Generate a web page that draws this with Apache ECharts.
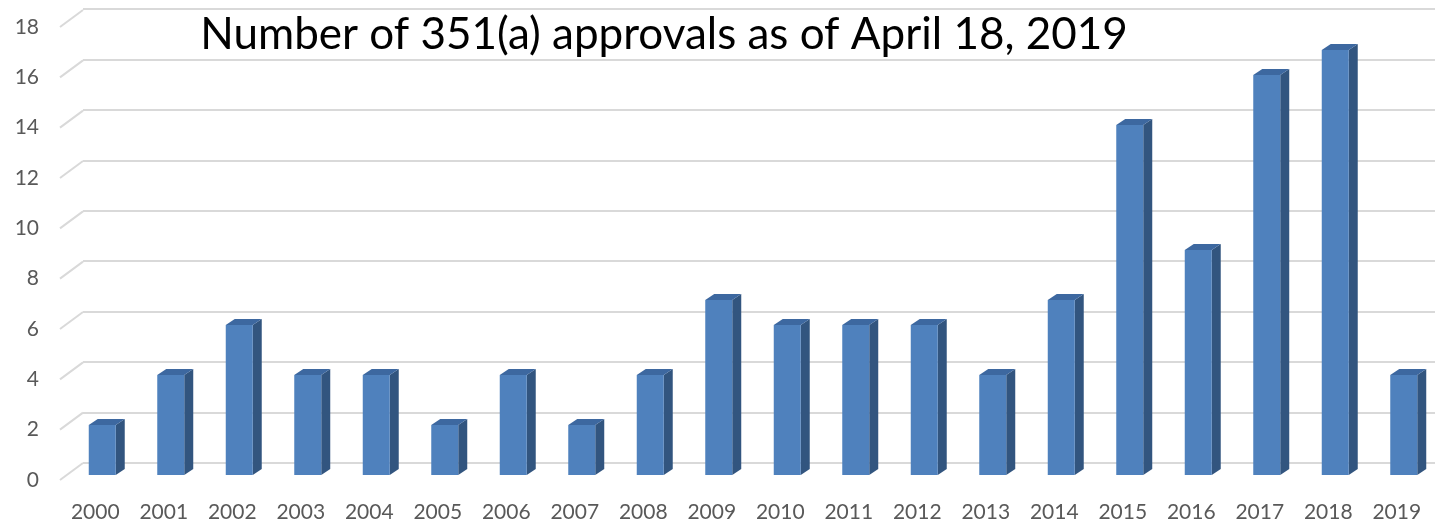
<!DOCTYPE html>
<html><head><meta charset="utf-8">
<script src="https://cdn.jsdelivr.net/npm/echarts@6/dist/echarts.min.js"></script>
<style>html,body{margin:0;padding:0;background:#fff}#c{width:1435px;height:520px}</style>
</head><body><div id="c"></div>
<script>
var titleText = 'Number of 351(a) approvals as of April 18, 2019';
var years = ['2000','2001','2002','2003','2004','2005','2006','2007','2008','2009','2010','2011','2012','2013','2014','2015','2016','2017','2018','2019'];
var approvals = [2,4,6,4,4,2,4,2,4,7,6,6,6,4,7,14,9,16,17,4];
var yTicks = [0,2,4,6,8,10,12,14,16,18];

var FONT = 'Lato, "Liberation Sans", sans-serif';
var DX = 9, DY = -6;          // bar depth offset
var WX = 23, WY = -17;        // back-wall offset
var BAR_SHIFT = 7;

var chart = echarts.init(document.getElementById('c'), null, {renderer: 'canvas'});
chart.setOption({
  animation: false,
  backgroundColor: '#fff',
  title: {
    text: titleText, left: 659, top: 8, textAlign: 'center',
    textStyle: {fontFamily: FONT, fontSize: 44, fontWeight: 'normal', color: '#000'}
  },
  grid: [
    {left: 61, right: 4, top: 25, height: 450, containLabel: false, outerBoundsMode: 'none'},   // bars (front)
    {left: 83, right: 0, top: 9, height: 454, containLabel: false, outerBoundsMode: 'none'},    // back wall
    {left: 60, right: 0, top: 27, height: 453, containLabel: false, outerBoundsMode: 'none'}    // labels / side wall edge
  ],
  xAxis: [
    {type: 'category', gridIndex: 0, data: years,
     axisLine: {show: false}, axisTick: {show: false},
     axisLabel: {color: '#595959', fontFamily: FONT, fontSize: 21, margin: 27}},
    {type: 'value', gridIndex: 1, show: false, min: 0, max: 1},
    {type: 'value', gridIndex: 2, show: false, min: 0, max: 1}
  ],
  yAxis: [
    {type: 'value', gridIndex: 0, min: 0, max: 18, interval: 2, show: false},
    {type: 'value', gridIndex: 1, min: 0, max: 18, interval: 2,
     axisLine: {show: false}, axisTick: {show: false}, axisLabel: {show: false},
     splitLine: {show: true, lineStyle: {color: '#d9d9d9', width: 2}}},
    {type: 'value', gridIndex: 2, min: 0, max: 18, interval: 2,
     axisLine: {show: false}, axisTick: {show: false}, splitLine: {show: false},
     axisLabel: {color: '#595959', fontFamily: FONT, fontSize: 21, margin: 21}}
  ],
  series: [
    {
      type: 'custom', xAxisIndex: 2, yAxisIndex: 2, silent: true, z: 1,
      data: yTicks.map(function (v) { return [0, v]; }),
      renderItem: function (params, api) {
        var p = api.coord([0, api.value(1)]);
        return {type: 'line', shape: {x1: p[0], y1: p[1], x2: p[0] + WX, y2: p[1] + WY},
                style: {stroke: '#d9d9d9', lineWidth: 2}};
      }
    },
    {
      type: 'custom', xAxisIndex: 0, yAxisIndex: 0, z: 3,
      data: approvals.map(function (v, i) { return [i, v]; }),
      renderItem: function (params, api) {
        var top = api.coord([api.value(0), api.value(1)]);
        var base = api.coord([api.value(0), 0]);
        var bw = api.size([1, 0])[0] * 0.394;
        var cx = top[0] + BAR_SHIFT;
        var l = cx - bw / 2, r = cx + bw / 2, t = top[1], b = base[1];
        return {type: 'group', children: [
          {type: 'polygon', shape: {points: [[r, t], [r + DX, t + DY], [r + DX, b + DY], [r, b]]},
           style: {fill: '#32557f'}},
          {type: 'polygon', shape: {points: [[l, t], [l + DX, t + DY], [r + DX, t + DY], [r, t]]},
           style: {fill: '#3d68a0'}},
          {type: 'rect', shape: {x: l, y: t, width: r - l, height: b - t},
           style: {fill: '#4f81bd'}}
        ]};
      }
    }
  ]
});
</script></body></html>
